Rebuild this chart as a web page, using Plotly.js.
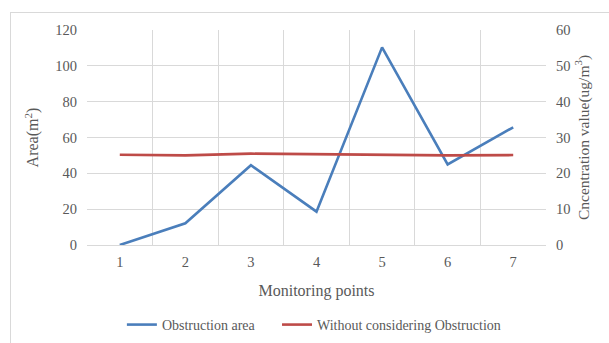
<!DOCTYPE html>
<html>
<head>
<meta charset="utf-8">
<script src="https://cdn.plot.ly/plotly-3.0.1.min.js"></script>
<style>
html,body{margin:0;padding:0;background:#fff;}
#wrap{position:relative;width:609px;height:343px;overflow:hidden;}
#frame{position:absolute;left:10px;top:12px;width:700px;height:400px;border:1px solid #d9d9d9;box-sizing:border-box;}
#chart{position:absolute;left:0;top:0;width:609px;height:343px;}
</style>
</head>
<body>
<div id="wrap"><div id="frame"></div><div id="chart"></div></div>
<script>
const categories = ['1','2','3','4','5','6','7'];
const obstructionArea = [0, 12.1, 44.5, 18.6, 110.3, 45, 65.7];
const withoutObstruction = [25.2, 25.0, 25.5, 25.3, 25.0, 25.0, 25.1];
const seriesNames = ['Obstruction area', 'Without considering Obstruction'];

const font = 'Liberation Serif, Times New Roman, serif';
const gray = '#595959';
const grid = '#d9d9d9';

const traces = [
  {x: categories, y: obstructionArea, name: seriesNames[0], type: 'scatter', mode: 'lines',
   line: {color: '#4a7ebb', width: 2.6}, yaxis: 'y', legend: 'legend'},
  {x: categories, y: withoutObstruction, name: seriesNames[1], type: 'scatter', mode: 'lines',
   line: {color: '#be4b48', width: 2.6}, yaxis: 'y2', legend: 'legend2'}
];

const legendBase = {orientation: 'h', xanchor: 'left', y: -0.372, yanchor: 'middle', itemwidth: 30,
                    bgcolor: 'rgba(0,0,0,0)', font: {family: font, color: gray, size: 14}};

const layout = {
  width: 609, height: 343,
  margin: {l: 87, r: 63, t: 30, b: 98, autoexpand: false},
  paper_bgcolor: 'rgba(0,0,0,0)', plot_bgcolor: 'rgba(0,0,0,0)',
  font: {family: font, color: gray, size: 14},
  showlegend: true,
  legend: Object.assign({}, legendBase, {x: 0.076}),
  legend2: Object.assign({}, legendBase, {x: 0.414}),
  xaxis: {type: 'category', range: [-0.5, 6.5], tickson: 'boundaries', showgrid: true, gridcolor: grid, gridwidth: 1,
          automargin: false, showline: true, linecolor: grid, linewidth: 1, zeroline: false,
          ticks: 'outside', ticklen: 14, tickcolor: 'rgba(0,0,0,0)', ticklabelstandoff: 4,
          tickfont: {family: font, color: gray, size: 14.5},
          title: {text: 'Monitoring points', font: {family: font, color: gray, size: 16}, standoff: 15}},
  yaxis: {range: [0, 120], dtick: 20, showgrid: true, gridcolor: grid, gridwidth: 1, zeroline: false,
          automargin: false, showline: false, ticks: 'outside', ticklen: 6, tickcolor: 'rgba(0,0,0,0)',
          tickfont: {family: font, color: gray, size: 14.5},
          title: {text: 'Area(m<sup>2</sup>)', font: {family: font, color: gray, size: 16}, standoff: 12}},
  yaxis2: {range: [0, 60], dtick: 10, overlaying: 'y', side: 'right', showgrid: false, zeroline: false,
           automargin: false, showline: false, ticks: 'outside', ticklen: 6, tickcolor: 'rgba(0,0,0,0)',
           tickfont: {family: font, color: gray, size: 14.5},
           title: {text: 'Cncentration value(ug/m<sup>3</sup>)', font: {family: font, color: gray, size: 15.5}, standoff: 8}}
};

Plotly.newPlot('chart', traces, layout, {displayModeBar: false, staticPlot: true});
</script>
</body>
</html>
